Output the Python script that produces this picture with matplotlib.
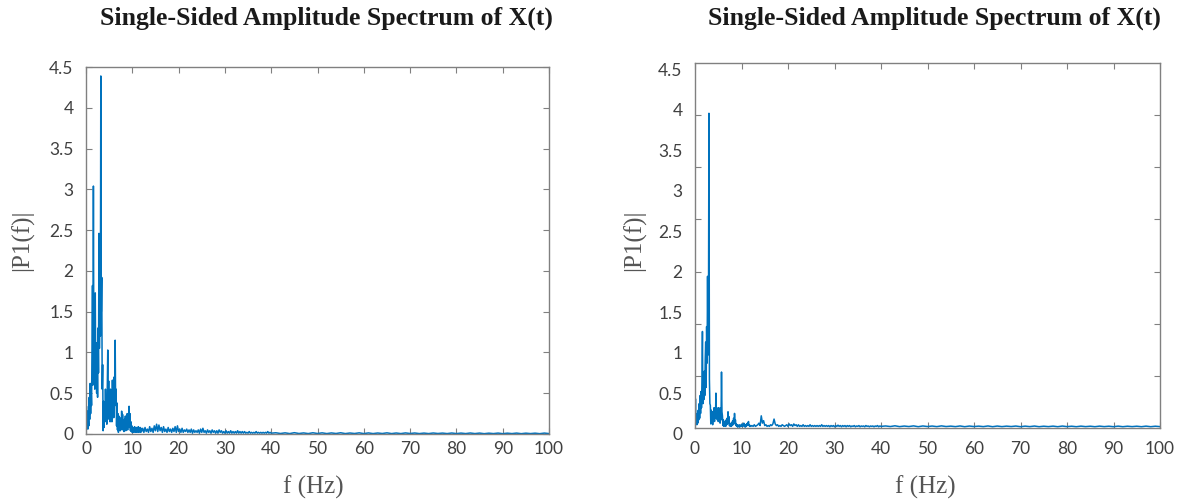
import numpy as np
import matplotlib
matplotlib.use('Agg')
import matplotlib.pyplot as plt
from matplotlib.transforms import ScaledTranslation

# spectrum of the first signal
left_low = [0.05, 0.34, 0.12, 0.28, 0.06, 0.22, 0.10, 0.45, 0.18, 0.62,
            0.25, 0.55, 0.35, 1.10, 1.82, 0.60, 3.04, 0.80, 1.15, 0.55,
            1.73, 0.70, 1.12, 0.50, 0.95, 0.45, 1.30, 0.75, 2.46, 1.05,
            1.90, 1.20, 4.39, 1.50, 1.92, 0.55, 0.85, 0.04, 0.40, 0.08,
            0.30, 0.15, 0.55, 0.20, 0.40, 0.12, 0.60, 1.03, 0.25, 0.65,
            0.18, 0.45, 0.15, 0.55, 0.22, 0.40, 0.15, 0.66, 0.30, 0.62,
            0.20, 0.70, 0.40, 1.15, 0.35, 0.55, 0.10, 0.38, 0.05, 0.25,
            0.02, 0.22, 0.08, 0.20, 0.04, 0.18, 0.06, 0.28, 0.05, 0.24,
            0.08, 0.15, 0.03, 0.18, 0.06, 0.22, 0.04, 0.20, 0.09, 0.25,
            0.05, 0.22, 0.10, 0.34, 0.08, 0.25, 0.04, 0.15, 0.03, 0.10,
            0.02, 0.08, 0.02, 0.07, 0.03, 0.09, 0.02, 0.06, 0.03, 0.08,
            0.02, 0.07, 0.03, 0.09, 0.02, 0.06, 0.03, 0.08, 0.02, 0.07,
            0.03]
left_mid = [0.07, 0.02, 0.08, 0.03, 0.06, 0.02, 0.09, 0.03,
            0.07, 0.02, 0.10, 0.04, 0.12, 0.03, 0.11, 0.04,
            0.08, 0.02, 0.09, 0.03, 0.06, 0.02, 0.08, 0.03,
            0.06, 0.02, 0.07, 0.03, 0.09, 0.02, 0.10, 0.03,
            0.06, 0.02, 0.07, 0.02, 0.05, 0.03, 0.06, 0.02,
            0.05, 0.02, 0.06, 0.01, 0.05, 0.02, 0.04, 0.02,
            0.05, 0.01, 0.06, 0.02, 0.07, 0.02, 0.04, 0.01,
            0.05, 0.02, 0.04, 0.01, 0.05, 0.02, 0.04, 0.01,
            0.04, 0.01, 0.05, 0.02, 0.04, 0.01, 0.03, 0.01,
            0.04, 0.01, 0.03, 0.01, 0.04, 0.01, 0.03, 0.01,
            0.03, 0.01, 0.04, 0.01, 0.03, 0.01, 0.03, 0.01,
            0.03, 0.01, 0.02, 0.01, 0.03, 0.01, 0.02, 0.01,
            0.02, 0.01, 0.03, 0.01, 0.02, 0.01, 0.02, 0.01,
            0.02, 0.01, 0.02, 0.01, 0.03, 0.01, 0.02, 0.01]
left_high = [0.015, 0.006, 0.014, 0.005, 0.016, 0.006, 0.013, 0.005, 0.015, 0.006,
             0.014, 0.005, 0.013, 0.006, 0.015, 0.005, 0.012, 0.006, 0.014, 0.005,
             0.013, 0.005, 0.012, 0.006, 0.014, 0.005, 0.012, 0.005, 0.013, 0.006,
             0.012, 0.005, 0.011, 0.005, 0.012, 0.006, 0.011, 0.005, 0.012, 0.005,
             0.011, 0.005, 0.012, 0.005, 0.011, 0.004, 0.010, 0.005, 0.011, 0.004,
             0.010, 0.005, 0.011, 0.004, 0.010, 0.005, 0.010, 0.004, 0.011, 0.005]

# spectrum of the second signal
right_low = [0.05, 0.36, 0.08, 0.15, 0.04, 0.18, 0.06, 0.22, 0.10, 0.30,
             0.12, 0.40, 0.18, 0.45, 0.25, 0.60, 1.19, 0.30, 0.55, 0.35,
             0.70, 0.40, 0.85, 1.06, 0.50, 1.25, 0.80, 1.87, 0.90, 1.40,
             3.88, 0.60, 0.30, 0.28, 0.05, 0.22, 0.08, 0.20, 0.04, 0.15,
             0.10, 0.25, 0.08, 0.20, 0.12, 0.43, 0.15, 0.25, 0.10, 0.22,
             0.08, 0.25, 0.12, 0.23, 0.06, 0.25, 0.10, 0.69, 0.20, 0.15,
             0.03, 0.10, 0.02, 0.08, 0.03, 0.06, 0.02, 0.10, 0.04, 0.12,
             0.05, 0.20, 0.08, 0.14, 0.03, 0.06, 0.02, 0.05, 0.02, 0.07,
             0.03, 0.09, 0.04, 0.12, 0.05, 0.18, 0.08, 0.10, 0.03, 0.05,
             0.02, 0.04, 0.01, 0.03, 0.02, 0.04, 0.01, 0.03, 0.02, 0.04,
             0.02, 0.05, 0.02, 0.04, 0.03, 0.06, 0.02, 0.03, 0.01, 0.04,
             0.02, 0.05, 0.03, 0.06, 0.04, 0.08, 0.03, 0.04, 0.02, 0.03,
             0.02]
right_mid = [0.03, 0.02, 0.04, 0.02, 0.03, 0.04, 0.06, 0.03,
             0.15, 0.06, 0.09, 0.03, 0.04, 0.02, 0.03, 0.02,
             0.04, 0.03, 0.05, 0.11, 0.05, 0.03, 0.04, 0.02,
             0.03, 0.02, 0.04, 0.03, 0.02, 0.03, 0.04, 0.02,
             0.05, 0.03, 0.04, 0.02, 0.05, 0.03, 0.04, 0.02,
             0.04, 0.02, 0.03, 0.02, 0.04, 0.02, 0.03, 0.02,
             0.03, 0.02, 0.04, 0.02, 0.03, 0.02, 0.03, 0.02,
             0.03, 0.02, 0.03, 0.02, 0.04, 0.02, 0.03, 0.02,
             0.03, 0.02, 0.03, 0.015, 0.03, 0.02, 0.03, 0.015,
             0.03, 0.02, 0.035, 0.02, 0.03, 0.015, 0.03, 0.02,
             0.03, 0.015, 0.03, 0.02, 0.03, 0.015, 0.025, 0.02,
             0.03, 0.015, 0.025, 0.02, 0.03, 0.015, 0.025, 0.02,
             0.025, 0.015, 0.03, 0.02, 0.025, 0.015, 0.025, 0.02,
             0.025, 0.015, 0.025, 0.02, 0.03, 0.015, 0.025, 0.02]
right_high = [0.025, 0.018, 0.027, 0.017, 0.024, 0.018, 0.026, 0.016, 0.025, 0.018,
              0.024, 0.017, 0.026, 0.018, 0.023, 0.017, 0.025, 0.016, 0.024, 0.018,
              0.023, 0.017, 0.025, 0.016, 0.024, 0.017, 0.023, 0.018, 0.024, 0.016,
              0.023, 0.017, 0.024, 0.016, 0.022, 0.017, 0.023, 0.016, 0.024, 0.017,
              0.022, 0.016, 0.023, 0.017, 0.022, 0.016, 0.023, 0.017, 0.022, 0.016,
              0.023, 0.016, 0.022, 0.017, 0.022, 0.016, 0.023, 0.016, 0.022, 0.017]

f_low = np.arange(0, 12.05, 0.1)
f_mid = np.arange(12.25, 40.01, 0.25)
f_high = np.arange(41, 100.5, 1.0)

xticks = [0, 10, 20, 30, 40, 50, 60, 70, 80, 90, 100]
yticks = [0, 0.5, 1, 1.5, 2, 2.5, 3, 3.5, 4, 4.5]
ylabels = ['0', '0.5', '1', '1.5', '2', '2.5', '3', '3.5', '4', '4.5']

blue = '#0072BD'
W, H = 1178, 503

fig = plt.figure(figsize=(11.78, 5.03), dpi=100)


def panel(rect, lo, mid, hi, odd_ticks=False):
    ax = fig.add_axes(rect)
    f = np.concatenate([f_low, f_mid, f_high])
    p = np.concatenate([lo, mid, hi])
    ax.plot(f, p, c=blue, lw=1.1)
    ax.set_xlim(0, 100)
    ax.set_ylim(0, 4.5)
    ax.set_xticks(xticks)
    ax.set_yticks(yticks)
    ax.set_yticklabels(ylabels)
    for s in ax.spines.values():
        s.set_color('#808080')
        s.set_linewidth(1.0)
    ax.tick_params(direction='in', length=4, width=0.8, color='#808080',
                   top=True, right=True, labelsize=12.5, labelcolor='#404040')
    ax.tick_params(axis='x', pad=5)
    ax.tick_params(axis='y', pad=9)
    if odd_ticks:
        # tick marks of this panel don't line up with its labels
        ax.tick_params(axis='x', pad=9)
        ax.tick_params(axis='y', length=0, pad=9)
        ax.set_yticks(np.linspace(0, 4.5, 8), minor=True)
        ax.tick_params(axis='y', which='minor', direction='in', length=4,
                       width=0.8, color='#808080', left=True, right=True)
        shift = ScaledTranslation(0, -0.06, fig.dpi_scale_trans)
        for t in ax.get_yticklabels():
            t.set_transform(t.get_transform() + shift)
    for t in ax.get_xticklabels() + ax.get_yticklabels():
        t.set_fontfamily('Lato')
    return ax


ax1 = panel([86 / W, 1 - 434 / H, 463 / W, 367 / H], left_low, left_mid, left_high)
ax2 = panel([695 / W, 1 - 428 / H, 465 / W, 365 / H], right_low, right_mid, right_high,
            odd_ticks=True)

title = 'Single-Sided Amplitude Spectrum of X(t)'
for xc in (326, 934):
    fig.text(xc / W, 1 - 18 / H, title, ha='center', va='center',
             family='Liberation Serif', weight='bold', fontsize=18.5, color='#1a1a1a')
for xc in (313, 925):
    fig.text(xc / W, 1 - 487 / H, 'f (Hz)', ha='center', va='center',
             family='Liberation Serif', fontsize=18, color='#555555')
for xc in (22, 634):
    fig.text(xc / W, 1 - 240 / H, '|P1(f)|', ha='center', va='center', rotation=90,
             family='Liberation Serif', fontsize=18, color='#555555')

fig.savefig('out.png', dpi=100)
